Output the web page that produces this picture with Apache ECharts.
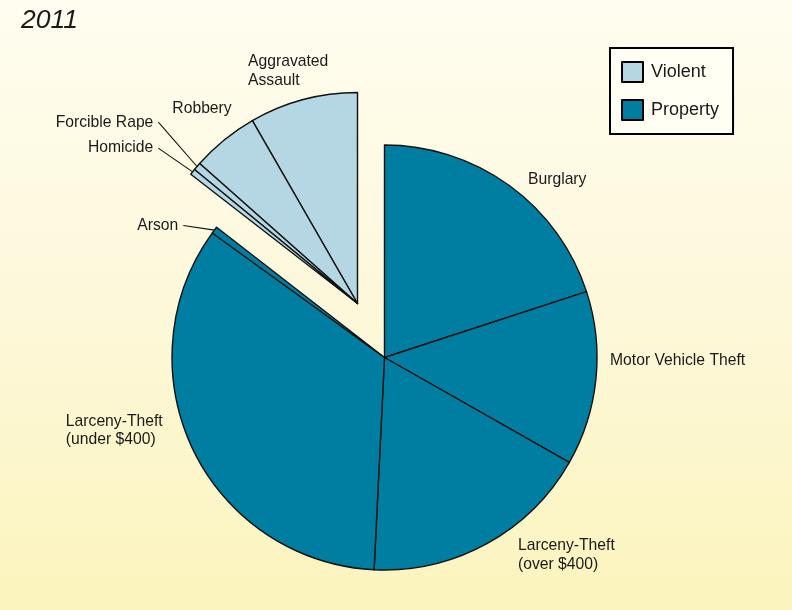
<!DOCTYPE html>
<html><head><meta charset="utf-8">
<script src="https://cdn.jsdelivr.net/npm/echarts@6/dist/echarts.min.js"></script>
<style>html,body{margin:0;padding:0;}#c{width:792px;height:610px;}</style>
</head><body><div id="c"></div>
<script>
// ---- data (percent of all offences) ----
const chartTitle = '2011';
const legendNames = ['Violent', 'Property'];
const propertyNames = ['Burglary', 'Motor Vehicle Theft', 'Larceny-Theft\n(over $400)', 'Larceny-Theft\n(under $400)', 'Arson'];
const propertyValues = [19.98, 13.23, 17.56, 34.18, 0.53];
const violentNames = ['Aggravated\nAssault', 'Robbery', 'Forcible Rape', 'Homicide'];
const violentValues = [8.3, 5.15, 0.6, 0.45];

// ---- styling ----
const VIOLENT_COLOR = '#b4d7e3';
const PROPERTY_COLOR = '#007ea2';
const FONT = 'Liberation Sans, Arial, sans-serif';
// label fine tuning (dx, dy) relative to library default placement
const labelNudge = {
  'Burglary': [18.7, -5.5],
  'Motor Vehicle Theft': [14.1, -18.3],
  'Larceny-Theft\n(over $400)': [31.1, 11.3],
  'Larceny-Theft\n(under $400)': [-30.3, -19.0],
  'Arson': [-36.1, -4.6],
  'Aggravated\nAssault': [25.2, -28.3],
  'Robbery': [7.4, -31.1],
  'Forcible Rape': [-43.7, -44.3],
  'Homicide': [-39.3, -23.7]
};
const leaderNames = ['Arson', 'Forcible Rape', 'Homicide'];

const sum = a => a.reduce((s, v) => s + v, 0);
const gap = { color: 'rgba(0,0,0,0)', borderWidth: 0 };

function buildData(names, values, otherTotal) {
  const d = names.map((n, i) => ({
    name: n, value: values[i],
    labelLine: leaderNames.includes(n)
      ? { show: true, length: 0, length2: 0, lineStyle: { color: '#111', width: 1.1 } }
      : { show: false }
  }));
  d.push({ name: '', value: otherTotal, itemStyle: gap, label: { show: false }, labelLine: { show: false } });
  return d;
}

function makeLayout(names) {
  return function (p) {
    const name = names[p.dataIndex];
    const nd = labelNudge[name];
    if (!nd) return {};
    const r = p.labelRect;
    const x = r.x + nd[0];
    const y = r.y + r.height / 2 + nd[1];
    const out = { x: x, y: y, align: 'left', verticalAlign: 'middle' };
    if (leaderNames.includes(name) && p.labelLinePoints) {
      const a = p.labelLinePoints[0];
      const e = [x + r.width + 5, y];
      out.labelLinePoints = [[a[0], a[1]], e, [e[0], e[1]]];
    }
    return out;
  };
}

const labelStyle = {
  show: true, position: 'outside', alignTo: 'none', distanceToLabelLine: 0,
  fontSize: 15.7, lineHeight: 18.5, fontFamily: FONT, color: '#1a1a1a'
};

const chart = echarts.init(document.getElementById('c'), null, { renderer: 'canvas' });
chart.setOption({
  animation: false,
  backgroundColor: {
    type: 'linear', x: 0, y: 0, x2: 0, y2: 1,
    colorStops: [{ offset: 0, color: '#fffdf0' }, { offset: 0.5, color: '#fdf8da' }, { offset: 1, color: '#fbf4bd' }]
  },
  title: {
    text: chartTitle, left: 21, top: 7, padding: 0,
    textStyle: { fontSize: 26.5, fontStyle: 'italic', fontWeight: 'normal', color: '#1a1a1a', fontFamily: FONT }
  },
  legend: {
    orient: 'vertical', left: 610, top: 48,
    padding: [13, 14, 13, 11],
    backgroundColor: '#fffff4', borderColor: '#000', borderWidth: 2, borderRadius: 0,
    itemWidth: 21, itemHeight: 20, itemGap: 16, icon: 'rect',
    itemStyle: { borderColor: '#000', borderWidth: 2 },
    textStyle: { fontSize: 18, fontFamily: FONT, color: '#1a1a1a', padding: [0, 0, 0, 3] },
    data: [
      { name: legendNames[0], itemStyle: { color: VIOLENT_COLOR } },
      { name: legendNames[1], itemStyle: { color: PROPERTY_COLOR } }
    ],
    selectedMode: false
  },
  series: [
    {
      name: legendNames[1], type: 'pie', center: [384.5, 357.5], radius: 212.5,
      startAngle: 90, clockwise: true, avoidLabelOverlap: false, silent: true,
      emphasis: { disabled: true },
      itemStyle: { color: PROPERTY_COLOR, borderColor: '#111', borderWidth: 1.4 },
      label: labelStyle, labelLine: { show: false, length: 0, length2: 0 },
      labelLayout: makeLayout(propertyNames),
      data: buildData(propertyNames, propertyValues, sum(violentValues))
    },
    {
      name: legendNames[0], type: 'pie', center: [357.5, 303.5], radius: 211,
      startAngle: 90, clockwise: false, avoidLabelOverlap: false, silent: true,
      emphasis: { disabled: true },
      itemStyle: { color: VIOLENT_COLOR, borderColor: '#111', borderWidth: 1.4 },
      label: labelStyle, labelLine: { show: false, length: 0, length2: 0 },
      labelLayout: makeLayout(violentNames),
      data: buildData(violentNames, violentValues, sum(propertyValues))
    }
  ]
});
</script>
</body></html>
